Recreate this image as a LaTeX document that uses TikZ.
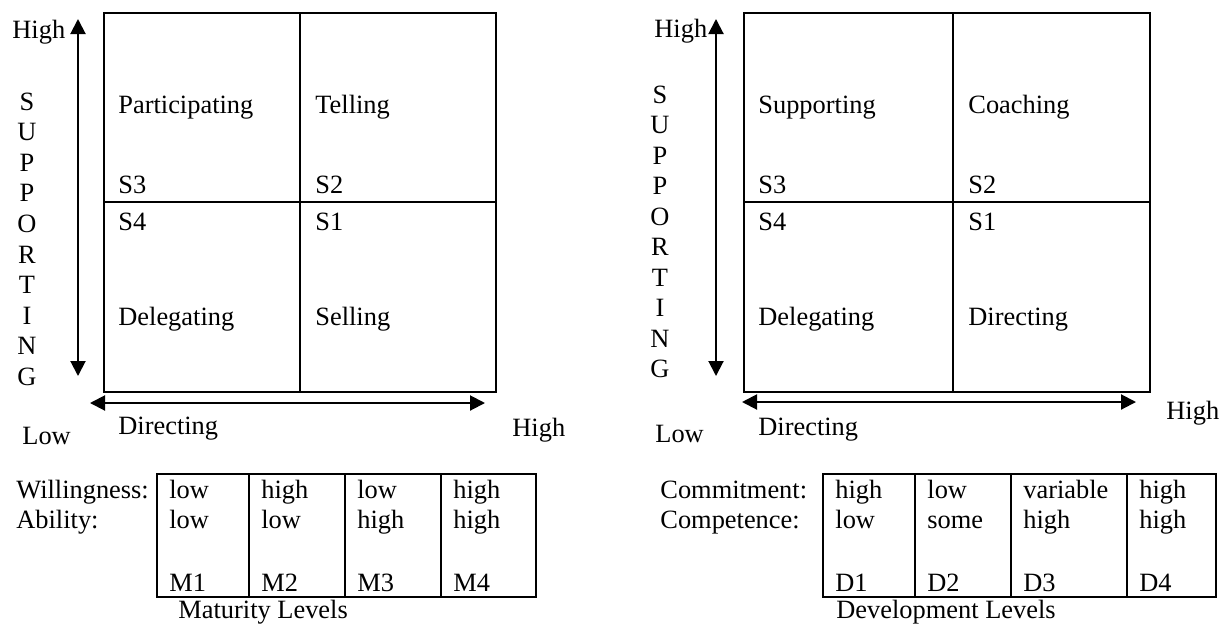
\documentclass[tikz,border=0pt]{standalone}
\usepackage{fontspec}
\setmainfont{Liberation Serif}
\usetikzlibrary{arrows.meta}

\begin{document}
\begin{tikzpicture}[x=0.5pt,y=-0.5pt,
    every node/.style={inner sep=0pt,font=\fontsize{13.2}{15.8}\selectfont},
    lbl/.style={anchor=base west},
    frame/.style={line width=1.1pt},
    axis/.style={line width=1pt,{Triangle[length=7.5pt,width=7.5pt]}-{Triangle[length=7.5pt,width=7.5pt]}}]

    \useasboundingbox (0,0) rectangle (1224,627);

    % Quadrants, left model
    \draw[frame] (104,13) rectangle (496,392);
    \draw[frame] (300,13) -- (300,392);
    \draw[frame] (104,202) -- (496,202);

    % Axes, left model
    \coordinate (vtopL) at (78,19);
    \coordinate (vbotL) at (78,376);
    \coordinate (hlftL) at (90,403);
    \coordinate (hrgtL) at (485,403);
    \draw[axis] (vtopL) -- (vbotL);
    \draw[axis] (hlftL) -- (hrgtL);
    \node[lbl] (hiTopL) at (12,38) {High};
    \node[lbl] (hiRgtL) at (512,436) {High};
    \node[lbl] (lowL) at (22,444) {Low};
    \node[lbl] (dirL) at (118,434) {Directing};
    \foreach \l [count=\i from 0] in {S,U,P,P,O,R,T,I,N,G}
        \node[anchor=base] (supL\i) at (27,110+30.6*\i) {\l};

    % Styles, left model
    \node[lbl] (partL) at (118,113) {Participating};
    \node[lbl] (tellL) at (315,113) {Telling};
    \node[lbl] (s3L) at (118,193) {S3};
    \node[lbl] (s2L) at (315,193) {S2};
    \node[lbl] (s4L) at (118,230) {S4};
    \node[lbl] (s1L) at (315,230) {S1};
    \node[lbl] (delL) at (118,325) {Delegating};
    \node[lbl] (sellL) at (315,325) {Selling};

    % Maturity levels
    \draw[line width=1pt] (157,474) rectangle (536,597);
    \foreach \x in {249,345,441}
        \draw[line width=1pt] (\x,474) -- (\x,597);
    \node[lbl] (willL) at (16,498) {Willingness:};
    \node[lbl] (ablL) at (16,528) {Ability:};
    \foreach \x/\w/\a/\m [count=\i] in {157/low/low/M1,249/high/low/M2,345/low/high/M3,441/high/high/M4} {
        \node[lbl] (wL\i) at (\x+12,498) {\w};
        \node[lbl] (aL\i) at (\x+12,528) {\a};
        \node[lbl] (mL\i) at (\x+12,591) {\m};
    }
    \node[lbl] (matL) at (178,618) {Maturity Levels};

    % Quadrants, right model
    \draw[frame] (744,13) rectangle (1150,392);
    \draw[frame] (953,13) -- (953,392);
    \draw[frame] (744,202) -- (1150,202);

    % Axes, right model
    \coordinate (vtopR) at (716,19);
    \coordinate (vbotR) at (716,376);
    \coordinate (hlftR) at (742,402);
    \coordinate (hrgtR) at (1136,402);
    \draw[axis] (vtopR) -- (vbotR);
    \draw[axis] (hlftR) -- (hrgtR);
    \node[lbl] (hiTopR) at (654,37) {High};
    \node[lbl] (hiRgtR) at (1166,419) {High};
    \node[lbl] (lowR) at (655,442) {Low};
    \node[lbl] (dirR) at (758,435) {Directing};
    \foreach \l [count=\i from 0] in {S,U,P,P,O,R,T,I,N,G}
        \node[anchor=base] (supR\i) at (660,103+30.5*\i) {\l};

    % Styles, right model
    \node[lbl] (suppR) at (758,113) {Supporting};
    \node[lbl] (coachR) at (968,113) {Coaching};
    \node[lbl] (s3R) at (758,193) {S3};
    \node[lbl] (s2R) at (968,193) {S2};
    \node[lbl] (s4R) at (758,230) {S4};
    \node[lbl] (s1R) at (968,230) {S1};
    \node[lbl] (delR) at (758,325) {Delegating};
    \node[lbl] (dirQR) at (968,325) {Directing};

    % Development levels
    \draw[line width=1pt] (823,474) rectangle (1216,597);
    \foreach \x in {915,1011,1127}
        \draw[line width=1pt] (\x,474) -- (\x,597);
    \node[lbl] (comR) at (660,498) {Commitment:};
    \node[lbl] (cmpR) at (660,528) {Competence:};
    \foreach \x/\c/\k/\d [count=\i] in {823/high/low/D1,915/low/some/D2,1011/variable/high/D3,1127/high/high/D4} {
        \node[lbl] (cR\i) at (\x+12,498) {\c};
        \node[lbl] (kR\i) at (\x+12,528) {\k};
        \node[lbl] (dR\i) at (\x+12,591) {\d};
    }
    \node[lbl] (devR) at (836,618) {Development Levels};

\end{tikzpicture}
\end{document}
